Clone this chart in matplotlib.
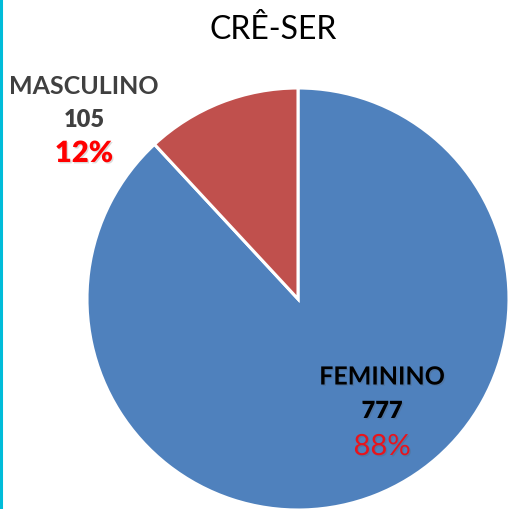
import matplotlib
matplotlib.use('Agg')
import matplotlib.pyplot as plt
import matplotlib.patheffects as pe

categories = ['FEMININO', 'MASCULINO']
counts = [777, 105]
colors = ['#4F81BD', '#C0504D']
title = 'CRÊ-SER'

plt.rcParams['font.family'] = ['Lato', 'DejaVu Sans']

W, H = 509, 510
fig = plt.figure(figsize=(W / 100, H / 100), dpi=100)
ax = fig.add_axes([0, 0, 1, 1])

# pie in pixel coords, first slice clockwise from 12 o'clock like Excel
ax.pie(counts, colors=colors, startangle=90, counterclock=False,
       center=(298, H - 300), radius=211, frame=True,
       wedgeprops=dict(edgecolor='white', linewidth=2.2))
ax.set_xlim(0, W)
ax.set_ylim(0, H)
ax.set_aspect('equal')
ax.axis('off')

# cyan border on the left
ax.axvline(1.5, color='#00BCD9', linewidth=2.2)

total = sum(counts)
pcts = ['{:.0f}%'.format(100 * c / total) for c in counts]
shadow = [pe.SimplePatchShadow(offset=(1, -1), alpha=0.2, shadow_rgbFace='#505050'), pe.Normal()]

# FEMININO label inside slice
ax.text(382, H - 378, categories[0], ha='center', va='center', fontsize=18,
        fontweight='bold', color='black', path_effects=shadow)
ax.text(382, H - 412, str(counts[0]), ha='center', va='center', fontsize=17,
        fontweight='heavy', color='black', path_effects=shadow)
ax.text(382, H - 448, pcts[0], ha='center', va='center', fontsize=21,
        color='#E8141C', path_effects=shadow)

# MASCULINO label outside
ax.text(84, H - 86, categories[1], ha='center', va='center', fontsize=18,
        fontweight='bold', color='#404040')
ax.text(84, H - 120, str(counts[1]), ha='center', va='center', fontsize=17,
        fontweight='heavy', color='#404040')
ax.text(84, H - 155, pcts[1], ha='center', va='center', fontsize=21,
        fontweight='heavy', color='#FF0000', path_effects=shadow)

ax.text(273, H - 30, title, ha='center', va='center', fontsize=23, color='black')

fig.savefig('out.png', dpi=100)
